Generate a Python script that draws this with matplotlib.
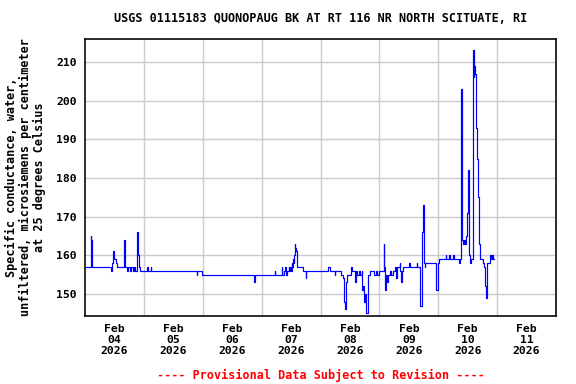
import matplotlib
matplotlib.use("Agg")
import matplotlib.pyplot as plt
import matplotlib.dates as mdates
import pandas as pd
import numpy as np

# Hours since 2026-02-04 00:00 (breakpoints) and specific conductance values
hours = [
    0.0, 2.25, 2.5, 2.75, 10.5, 11.0, 11.5, 12.0, 12.5, 13.0,
    15.75, 16.25, 17.0, 17.5, 18.25, 18.75, 19.5, 20.0, 20.5, 21.0,
    21.25, 21.5, 21.75, 22.0, 22.5, 25.25, 25.5, 26.75, 27.0, 45.5,
    45.75, 47.75, 68.75, 69.25, 77.25, 77.5, 80.25, 80.5, 81.25, 81.5,
    81.75, 82.5, 83.0, 83.25, 83.5, 84.0, 84.25, 84.5, 84.75, 85.0,
    85.25, 85.5, 85.75, 86.0, 86.25, 86.5, 88.75, 90.0, 90.25, 99.25,
    100.0, 101.75, 102.0, 104.5, 105.0, 105.5, 105.75, 106.0, 106.25, 106.5,
    107.0, 108.25, 108.75, 110.0, 110.5, 111.0, 111.5, 112.0, 112.75, 113.0,
    113.5, 113.75, 114.0, 114.5, 114.75, 115.25, 115.5, 116.0, 118.0, 118.75,
    119.0, 120.0, 121.75, 122.0, 122.25, 122.5, 123.25, 123.5, 124.25, 124.75,
    125.5, 126.25, 126.75, 127.0, 128.25, 128.5, 128.75, 129.25, 129.5, 132.25,
    132.5, 135.25, 135.5, 136.5, 136.75, 137.25, 137.5, 137.75, 138.0, 138.25,
    138.5, 138.75, 143.25, 143.75, 144.5, 147.0, 147.25, 148.5, 148.75, 150.0,
    150.25, 152.5, 152.75, 153.25, 153.5, 153.75, 154.0, 154.5, 155.0, 155.5,
    155.75, 156.25, 156.5, 156.75, 157.25, 158.0, 158.25, 158.5, 158.75, 159.0,
    159.25, 159.5, 159.75, 160.0, 160.25, 160.5, 160.75, 161.0, 162.25, 162.75,
    163.0, 163.25, 163.5, 163.75, 164.0, 165.25, 165.5, 166.0, 166.25, 166.75,
]
values = [
    157, 165, 164, 157, 156, 158, 161, 159, 158, 157,
    164, 157, 156, 157, 156, 157, 156, 157, 156, 157,
    166, 162, 160, 157, 156, 157, 156, 157, 156, 155,
    156, 155, 153, 155, 156, 155, 157, 155, 156, 157,
    155, 156, 157, 156, 157, 156, 158, 157, 159, 158,
    160, 163, 162, 161, 159, 157, 156, 154, 156, 157,
    156, 155, 156, 155, 154, 153, 148, 146, 150, 153,
    155, 157, 156, 153, 156, 155, 156, 155, 156, 151,
    152, 148, 150, 146, 145, 150, 155, 156, 155, 156,
    155, 156, 163, 157, 151, 155, 153, 155, 156, 155,
    156, 157, 154, 157, 158, 156, 153, 156, 157, 158,
    157, 158, 157, 153, 147, 150, 166, 173, 166, 158,
    157, 158, 151, 158, 159, 160, 159, 160, 159, 160,
    159, 158, 159, 203, 182, 164, 163, 164, 163, 165,
    171, 182, 160, 158, 159, 160, 213, 206, 209, 207,
    199, 193, 185, 180, 175, 167, 163, 159, 158, 157,
    155, 152, 149, 152, 158, 160, 159, 160, 159, 159,
]

day_labels = ["Feb\n04\n2026", "Feb\n05\n2026", "Feb\n06\n2026", "Feb\n07\n2026",
              "Feb\n08\n2026", "Feb\n09\n2026", "Feb\n10\n2026", "Feb\n11\n2026"]
y_ticks = [150, 160, 170, 180, 190, 200, 210]

base = pd.Timestamp("2026-02-04")
times = base + pd.to_timedelta(hours, unit="h")

FONT = "DejaVu Sans Mono"
fig = plt.figure(figsize=(6, 4), dpi=96)
ax = fig.add_axes([85/576, 68/384, 471/576, 277/384])

ax.plot(times, values, color="#0000ff", linewidth=0.9, drawstyle="steps-post", zorder=3)

start = base
end = base + pd.Timedelta(days=8)
ax.set_xlim(start, end)
ax.set_ylim(144.3, 215.95)

majors = [base + pd.Timedelta(days=i) for i in range(1, 8)]
minors = [base + pd.Timedelta(days=i, hours=12) for i in range(8)]
ax.set_xticks(majors)
ax.set_xticklabels([""] * len(majors))
ax.set_xticks(minors, minor=True)
ax.set_xticklabels(day_labels, minor=True, fontfamily=FONT, fontweight="bold",
                   fontsize=8.5, linespacing=1.15)
ax.set_yticks(y_ticks)
ax.set_yticklabels([str(v) for v in y_ticks], fontfamily=FONT, fontweight="bold", fontsize=8.5)
ax.tick_params(axis="both", which="both", length=0)
ax.tick_params(axis="x", which="minor", pad=6)
ax.tick_params(axis="y", pad=6)

ax.grid(True, which="major", color="#cccccc", linewidth=1.1, zorder=0)
for s in ax.spines.values():
    s.set_linewidth(1.2)
    s.set_color("black")

ax.set_ylabel("Specific conductance, water,\nunfiltered, microsiemens per centimeter\nat 25 degrees Celsius",
              fontfamily=FONT, fontweight="bold", fontsize=8.8, linespacing=1.1, labelpad=8)

cx = (85 + 556) / 2 / 576
fig.text(cx, 1 - 19/384, "USGS 01115183 QUONOPAUG BK AT RT 116 NR NORTH SCITUATE, RI",
         ha="center", va="center", fontfamily=FONT, fontweight="bold", fontsize=8.8)
fig.text(cx, 1 - 375/384, "---- Provisional Data Subject to Revision ----",
         ha="center", va="center", fontfamily=FONT, fontweight="bold", fontsize=8.8, color="red")

fig.savefig("out.png", dpi=96)
